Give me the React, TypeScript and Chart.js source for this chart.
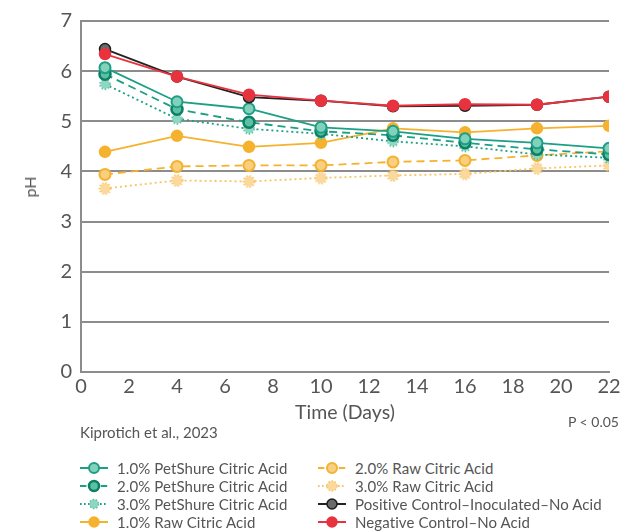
import React, { useEffect, useRef } from "react";
import { Chart, registerables } from "chart.js";

Chart.register(...registerables);

const days = [1, 4, 7, 10, 13, 16, 19, 22];
const petShure1 = [6.07, 5.39, 5.25, 4.88, 4.8, 4.65, 4.57, 4.46];
const petShure2 = [5.94, 5.24, 4.98, 4.8, 4.72, 4.57, 4.44, 4.34];
const petShure3 = [5.74, 5.05, 4.85, 4.75, 4.6, 4.5, 4.34, 4.27];
const raw1 = [4.39, 4.71, 4.49, 4.57, 4.86, 4.78, 4.86, 4.91];
const raw2 = [3.94, 4.1, 4.12, 4.12, 4.19, 4.22, 4.32, 4.4];
const raw3 = [3.66, 3.82, 3.8, 3.87, 3.92, 3.95, 4.06, 4.12];
const positiveControl = [6.44, 5.89, 5.48, 5.41, 5.3, 5.31, 5.33, 5.49];
const negativeControl = [6.34, 5.89, 5.53, 5.41, 5.31, 5.34, 5.33, 5.49];

const seriesLabels = [
  "1.0% PetShure Citric Acid",
  "2.0% PetShure Citric Acid",
  "3.0% PetShure Citric Acid",
  "1.0% Raw Citric Acid",
  "2.0% Raw Citric Acid",
  "3.0% Raw Citric Acid",
  "Positive Control\u2013Inoculated\u2013No Acid",
  "Negative Control\u2013No Acid",
];
const seriesValues = [petShure1, petShure2, petShure3, raw1, raw2, raw3, positiveControl, negativeControl];

const yTicks = [0, 1, 2, 3, 4, 5, 6, 7];

const FONT = "Lato, 'Open Sans', sans-serif";
const TEXT = "#555555";
const GRID = "#8c8c8c";
const TEAL = "#1c9f84";
const ORANGE = "#f5b22e";

type Style = {
  line: string;
  dash: number[];
  fill: string;
  border: string;
  bw: number;
  r: number;
  dotted?: boolean;
};

const styles: Style[] = [
  { line: TEAL, dash: [], fill: "#82d1bb", border: "#1c9f84", bw: 2, r: 5.5 },
  { line: TEAL, dash: [8, 5], fill: "#5cc0a4", border: "#0c7f65", bw: 2.5, r: 5.5 },
  { line: TEAL, dash: [2, 3], fill: "#8fd7c3", border: "#5cc4a8", bw: 1.5, r: 5, dotted: true },
  { line: ORANGE, dash: [], fill: ORANGE, border: ORANGE, bw: 1.5, r: 5.5 },
  { line: ORANGE, dash: [8, 5], fill: "#f9cf80", border: ORANGE, bw: 2, r: 5.5 },
  { line: "#f8c463", dash: [2, 3], fill: "#fbd89c", border: "#f8c76e", bw: 1.5, r: 5.5, dotted: true },
  { line: "#222222", dash: [], fill: "#6a6a6a", border: "#1e1e1e", bw: 1.5, r: 5.5 },
  { line: "#e8333f", dash: [], fill: "#e8333f", border: "#e8333f", bw: 1.5, r: 5.5 },
];

const drawOrder = [2, 3, 4, 5, 6, 7, 1, 0];

function dottedMarker(s: Style): HTMLCanvasElement {
  const size = Math.ceil(s.r * 2 + 4);
  const c = document.createElement("canvas");
  c.width = size;
  c.height = size;
  const ctx = c.getContext("2d")!;
  const m = size / 2;
  ctx.fillStyle = s.fill;
  ctx.beginPath();
  ctx.arc(m, m, s.r - 0.5, 0, Math.PI * 2);
  ctx.fill();
  ctx.strokeStyle = s.border;
  ctx.lineWidth = 1.8;
  ctx.setLineDash([1.6, 1.6]);
  ctx.beginPath();
  ctx.arc(m, m, s.r, 0, Math.PI * 2);
  ctx.stroke();
  return c;
}

function LegendIcon({ s }: { s: Style }) {
  return (
    <svg width={28} height={14} style={{ display: "block" }}>
      <line
        x1={0}
        y1={7}
        x2={28}
        y2={7}
        stroke={s.line}
        strokeWidth={2}
        strokeDasharray={s.dash.length ? s.dash.map((d) => d * 0.8).join(",") : undefined}
      />
      <circle
        cx={14}
        cy={7}
        r={s.r - 0.5}
        fill={s.fill}
        stroke={s.border}
        strokeWidth={s.bw}
        strokeDasharray={s.dotted ? "1.6,1.6" : undefined}
      />
    </svg>
  );
}

export default function App() {
  const ref = useRef<HTMLCanvasElement | null>(null);

  useEffect(() => {
    document.body.style.margin = "0";
    if (!ref.current) return;
    const datasets = seriesLabels.map((label, i) => {
      const s = styles[i];
      return {
        label,
        data: days.map((d, j) => ({ x: d, y: seriesValues[i][j] })),
        borderColor: s.line,
        borderWidth: 1.8,
        borderDash: s.dash,
        backgroundColor: s.fill,
        pointBackgroundColor: s.fill,
        pointBorderColor: s.border,
        pointBorderWidth: s.bw,
        pointRadius: s.r,
        pointStyle: s.dotted ? dottedMarker(s) : "circle",
        tension: 0,
        fill: false,
        order: drawOrder[i],
      };
    });
    const chart = new Chart(ref.current, {
      type: "line",
      data: { datasets },
      options: {
        animation: false,
        responsive: false,
        maintainAspectRatio: false,
        layout: { padding: { top: 19, right: 22, left: 0, bottom: 0 } },
        plugins: { legend: { display: false }, tooltip: { enabled: false } },
        scales: {
          x: {
            type: "linear",
            min: 0,
            max: 22,
            ticks: { stepSize: 2, padding: 3, color: TEXT, font: { family: FONT, size: 20 } },
            grid: { display: false, drawTicks: false },
            border: { display: true, color: GRID, width: 2 },
            title: {
              display: true,
              text: "Time (Days)",
              color: TEXT,
              font: { family: FONT, size: 19.5 },
              padding: { top: 0, bottom: 16 },
            },
            afterFit: (s: any) => {
              s.height = 68;
            },
          },
          y: {
            min: 0,
            max: 7,
            afterBuildTicks: (s: any) => {
              s.ticks = yTicks.map((v) => ({ value: v }));
            },
            ticks: { padding: 9, color: TEXT, font: { family: FONT, size: 20 } },
            grid: { color: GRID, lineWidth: 2, drawTicks: false },
            border: { display: true, color: GRID, width: 2 },
            afterFit: (s: any) => {
              s.width = 81;
            },
          },
        },
      },
    });
    return () => chart.destroy();
  }, []);

  const rows = [468, 486, 504, 522];
  const cols = [80, 318];

  return (
    <div
      style={{
        position: "fixed",
        left: 0,
        top: 0,
        width: 631,
        height: 531,
        background: "#fff",
        fontFamily: FONT,
        color: TEXT,
      }}
    >
      <canvas ref={ref} width={631} height={440} style={{ position: "absolute", left: 0, top: 0, width: 631, height: 440 }} />
      <div
        style={{
          position: "absolute",
          left: 30,
          top: 187,
          transform: "translate(-50%, -50%) rotate(-90deg)",
          fontSize: 16,
          lineHeight: "18px",
          whiteSpace: "nowrap",
        }}
      >
        pH
      </div>
      <div style={{ position: "absolute", left: 80, top: 423, fontSize: 15, lineHeight: "18px", whiteSpace: "nowrap" }}>
        Kiprotich et al., 2023
      </div>
      <div style={{ position: "absolute", right: 12, top: 413, fontSize: 14, lineHeight: "18px", whiteSpace: "nowrap" }}>
        P &lt; 0.05
      </div>
      {seriesLabels.map((label, i) => {
        const col = Math.floor(i / 4);
        const row = i % 4;
        return (
          <div
            key={label}
            style={{
              position: "absolute",
              left: cols[col],
              top: rows[row] - 9,
              height: 18,
              display: "flex",
              alignItems: "center",
              fontSize: 15,
              letterSpacing: "0.1px",
              whiteSpace: "nowrap",
            }}
          >
            <LegendIcon s={styles[i]} />
            <span style={{ marginLeft: 9 }}>{label}</span>
          </div>
        );
      })}
    </div>
  );
}
